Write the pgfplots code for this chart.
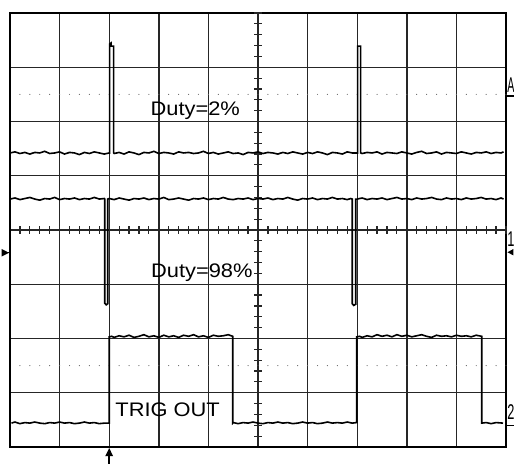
\documentclass[border=0pt]{standalone}
\usepackage{pgfplots}
\pgfplotsset{compat=1.18}
\usepackage{fontspec}
\setmainfont{Liberation Sans}
\newcommand{\lbl}[1]{\scalebox{1.115}[1]{\fontsize{14.7}{16}\selectfont #1}}
\newcommand{\mrk}[2]{\scalebox{#1}[1]{\fontsize{16}{18}\selectfont #2}}
\begin{document}
\begin{tikzpicture}
\begin{axis}[
  scale only axis, width=372pt, height=325.5pt,
  xmin=0, xmax=10, ymin=-4, ymax=4,
  xtick={1,...,9}, ytick={-3,...,3},
  xticklabels={}, yticklabels={},
  major tick length=0pt,
  grid=major, major grid style={black!85, line width=1.05pt},
  axis line style={black, line width=1.2pt},
  clip=false,
]
% centre graticule ticks
\pgfplotsinvokeforeach{0.2,0.4,...,9.9}{
  \draw[black!85, line width=0.9pt] (axis cs:#1,-0.065) -- (axis cs:#1,0.065);
  \fill[black!60] (axis cs:#1,2.5) circle[radius=0.45pt];
  \fill[black!60] (axis cs:#1,-2.5) circle[radius=0.45pt];
}
\pgfplotsinvokeforeach{-3.8,-3.6,...,3.9}{
  \draw[black!85, line width=0.9pt] (axis cs:4.92,#1) -- (axis cs:5.08,#1);
}
% Trace 1: Duty=2%
\addplot[black, line width=1.2pt] coordinates {
(0.0,1.42)(0.1,1.44)(0.2,1.41)(0.3,1.43)(0.4,1.40)(0.5,1.43)(0.6,1.42)(0.7,1.45)(0.8,1.41)(0.9,1.42)
(1.0,1.44)(1.1,1.40)(1.2,1.43)(1.3,1.42)(1.4,1.39)(1.5,1.43)(1.6,1.41)(1.7,1.44)(1.8,1.42)(1.9,1.40)(2.0,1.42)
(2.01,1.42)(2.01,3.43)(2.04,3.45)(2.04,3.39)(2.09,3.39)(2.09,1.42)
(2.1,1.41)(2.2,1.43)(2.3,1.40)(2.4,1.44)(2.5,1.42)(2.6,1.39)(2.7,1.43)(2.8,1.42)(2.9,1.45)(3.0,1.41)
(3.1,1.43)(3.2,1.42)(3.3,1.40)(3.4,1.44)(3.5,1.42)(3.6,1.43)(3.7,1.41)(3.8,1.42)(3.9,1.45)(4.0,1.41)
(4.1,1.43)(4.2,1.40)(4.3,1.42)(4.4,1.44)(4.5,1.41)(4.6,1.42)(4.7,1.39)(4.8,1.43)(4.9,1.42)(5.0,1.44)
(5.1,1.41)(5.2,1.43)(5.3,1.42)(5.4,1.40)(5.5,1.43)(5.6,1.41)(5.7,1.44)(5.8,1.42)(5.9,1.40)(6.0,1.43)
(6.1,1.41)(6.2,1.44)(6.3,1.42)(6.4,1.39)(6.5,1.43)(6.6,1.42)(6.7,1.40)(6.8,1.44)(6.9,1.42)(7.0,1.42)
(7.01,1.42)(7.01,3.39)(7.07,3.39)(7.07,1.42)
(7.1,1.41)(7.2,1.43)(7.3,1.42)(7.4,1.44)(7.5,1.40)(7.6,1.43)(7.7,1.42)(7.8,1.41)(7.9,1.44)(8.0,1.42)
(8.1,1.40)(8.2,1.43)(8.3,1.45)(8.4,1.41)(8.5,1.42)(8.6,1.44)(8.7,1.40)(8.8,1.43)(8.9,1.42)(9.0,1.41)
(9.1,1.44)(9.2,1.42)(9.3,1.40)(9.4,1.43)(9.5,1.42)(9.6,1.44)(9.7,1.41)(9.8,1.43)(9.9,1.42)(9.95,1.44)
};
% Trace 2: Duty=98%
\addplot[black, line width=1.2pt] coordinates {
(0.0,0.57)(0.1,0.59)(0.2,0.56)(0.3,0.58)(0.4,0.60)(0.5,0.57)(0.6,0.55)(0.7,0.58)(0.8,0.57)(0.9,0.60)
(1.0,0.56)(1.1,0.58)(1.2,0.57)(1.3,0.59)(1.4,0.56)(1.5,0.58)(1.6,0.57)(1.7,0.60)(1.8,0.57)(1.9,0.58)
(1.91,0.57)(1.91,-1.35)(1.94,-1.38)(1.97,-1.36)(1.97,0.57)
(2.0,0.58)(2.1,0.56)(2.2,0.59)(2.3,0.57)(2.4,0.55)(2.5,0.58)(2.6,0.57)(2.7,0.59)(2.8,0.56)(2.9,0.58)
(3.0,0.57)(3.1,0.60)(3.2,0.56)(3.3,0.57)(3.4,0.59)(3.5,0.57)(3.6,0.55)(3.7,0.58)(3.8,0.57)(3.9,0.59)
(4.0,0.56)(4.1,0.58)(4.2,0.57)(4.3,0.60)(4.4,0.57)(4.5,0.56)(4.6,0.58)(4.7,0.57)(4.8,0.59)(4.9,0.56)
(5.0,0.58)(5.1,0.57)(5.2,0.59)(5.3,0.56)(5.4,0.58)(5.5,0.57)(5.6,0.60)(5.7,0.57)(5.8,0.55)(5.9,0.58)
(6.0,0.57)(6.1,0.59)(6.2,0.56)(6.3,0.58)(6.4,0.57)(6.5,0.60)(6.6,0.57)(6.7,0.58)(6.8,0.56)(6.87,0.58)
(6.90,0.57)(6.90,-1.36)(6.93,-1.39)(6.97,-1.37)(6.97,0.57)
(7.0,0.57)(7.1,0.59)(7.2,0.56)(7.3,0.58)(7.4,0.57)(7.5,0.59)(7.6,0.56)(7.7,0.58)(7.8,0.60)(7.9,0.57)
(8.0,0.58)(8.1,0.56)(8.2,0.59)(8.3,0.57)(8.4,0.58)(8.5,0.60)(8.6,0.57)(8.7,0.56)(8.8,0.59)(8.9,0.57)
(9.0,0.58)(9.1,0.56)(9.2,0.59)(9.3,0.57)(9.4,0.58)(9.5,0.60)(9.6,0.57)(9.7,0.58)(9.8,0.56)(9.9,0.59)(9.95,0.57)
};
% Trace 3: TRIG OUT
\addplot[black, line width=1.2pt] coordinates {
(0.03,-3.56)(0.1,-3.54)(0.2,-3.57)(0.3,-3.55)(0.4,-3.56)(0.5,-3.54)(0.6,-3.56)(0.7,-3.57)(0.8,-3.55)(0.9,-3.56)
(1.0,-3.54)(1.1,-3.56)(1.2,-3.55)(1.3,-3.57)(1.4,-3.56)(1.5,-3.54)(1.6,-3.56)(1.7,-3.55)(1.8,-3.57)(1.9,-3.56)(2.0,-3.56)
(2.0,-1.97)(2.05,-1.96)(2.1,-1.98)(2.2,-1.95)(2.3,-1.97)(2.4,-1.94)(2.5,-1.98)(2.6,-1.96)(2.7,-1.93)(2.8,-1.97)(2.9,-1.95)
(3.0,-1.98)(3.1,-1.94)(3.2,-1.97)(3.3,-1.95)(3.4,-1.98)(3.5,-1.94)(3.6,-1.96)(3.7,-1.93)(3.8,-1.97)(3.9,-1.95)
(4.0,-1.98)(4.1,-1.94)(4.2,-1.96)(4.3,-1.95)(4.4,-1.93)(4.49,-1.96)(4.49,-3.56)
(4.5,-3.55)(4.6,-3.57)(4.7,-3.55)(4.8,-3.56)(4.9,-3.54)(5.0,-3.56)(5.1,-3.57)(5.2,-3.55)(5.3,-3.56)(5.4,-3.54)
(5.5,-3.56)(5.6,-3.55)(5.7,-3.57)(5.8,-3.56)(5.9,-3.54)(6.0,-3.56)(6.1,-3.55)(6.2,-3.57)(6.3,-3.56)(6.4,-3.54)
(6.5,-3.56)(6.6,-3.55)(6.7,-3.56)(6.8,-3.54)(6.9,-3.56)(6.99,-3.55)
(6.99,-1.97)(7.05,-1.96)(7.1,-1.98)(7.2,-1.95)(7.3,-1.97)(7.4,-1.93)(7.5,-1.96)(7.6,-1.94)(7.7,-1.97)(7.8,-1.93)(7.9,-1.96)
(8.0,-1.94)(8.1,-1.97)(8.2,-1.95)(8.3,-1.93)(8.4,-1.96)(8.5,-1.98)(8.6,-1.94)(8.7,-1.96)(8.8,-1.95)(8.9,-1.97)
(9.0,-1.94)(9.1,-1.96)(9.2,-1.95)(9.3,-1.97)(9.4,-1.94)(9.51,-1.96)(9.51,-3.56)
(9.6,-3.55)(9.7,-3.57)(9.8,-3.55)(9.94,-3.56)
};
% labels
\node[anchor=base west, inner sep=0pt] at (axis cs:2.83,2.11) {\lbl{Duty=2\%}};
\node[anchor=base west, inner sep=0pt] at (axis cs:2.84,-0.87) {\lbl{Duty=98\%}};
\node[anchor=base west, inner sep=0pt] at (axis cs:2.12,-3.43) {\lbl{TRIG OUT}};
% markers
\fill (axis cs:-0.17,-0.35) -- (axis cs:-0.02,-0.42) -- (axis cs:-0.17,-0.49) -- cycle;
\draw[line width=1pt] (axis cs:-0.05,-0.42) -- (axis cs:0,-0.42);
\node[anchor=base west, inner sep=0pt] at (axis cs:10.02,2.54) {\mrk{0.5}{A}};
\draw[line width=1pt] (axis cs:10,2.47) -- (axis cs:10.17,2.47);
\node[anchor=base west, inner sep=0pt] at (axis cs:10.02,-0.31) {\mrk{0.6}{1}};
\fill (axis cs:10.03,-0.41) -- (axis cs:10.15,-0.35) -- (axis cs:10.15,-0.47) -- cycle;
\node[anchor=base west, inner sep=0pt] at (axis cs:10.02,-3.49) {\mrk{0.6}{2}};
\draw[line width=1pt] (axis cs:10,-3.6) -- (axis cs:10.17,-3.6);
% trigger arrow
\draw[line width=1.3pt] (axis cs:2,-4.31) -- (axis cs:2,-4.12);
\fill (axis cs:1.92,-4.17) -- (axis cs:2,-4.02) -- (axis cs:2.08,-4.17) -- cycle;
\coordinate (sw) at (rel axis cs:0,0);
\coordinate (ne) at (rel axis cs:1,1);
\end{axis}
\pgfresetboundingbox
\path[use as bounding box] ([shift={(-7.5pt,-12.75pt)}]sw) rectangle ([shift={(6pt,9.75pt)}]ne);
\end{tikzpicture}
\end{document}
